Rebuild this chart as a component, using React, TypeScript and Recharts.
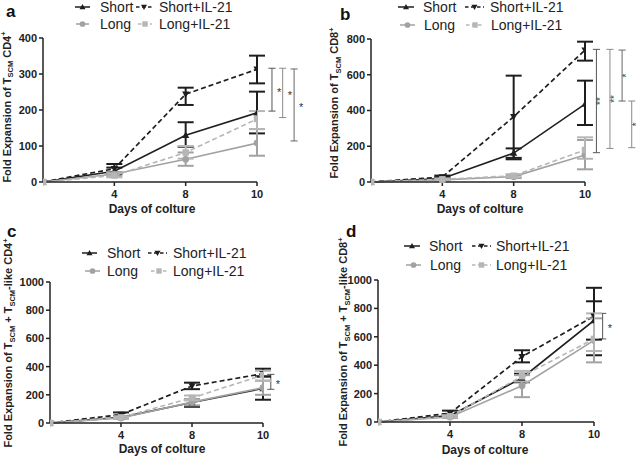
import React from 'react';
import { LineChart, Line, XAxis, YAxis, ErrorBar, ReferenceLine } from 'recharts';

const FONT = "Arial, 'Liberation Sans', Helvetica, sans-serif";

// ---- categories / labels ----
const dayIndex = [0, 1, 2, 3];
const dayLabels = ['0', '4', '8', '10'];
const seriesNames = ['Short', 'Short+IL-21', 'Long', 'Long+IL-21'];
const xTitle = 'Days of colture';

// ---- panel a : TSCM CD4+ ----
const aShort = [0, 30, 130, 192];
const aShortLow = [0, 22, 98, 135];
const aShortHigh = [0, 40, 166, 251];
const aShortIL = [0, 37, 244, 313];
const aShortILLow = [0, 26, 214, 274];
const aShortILHigh = [0, 50, 262, 351];
const aLong = [0, 22, 63, 108];
const aLongLow = [0, 17, 45, 73];
const aLongHigh = [0, 27, 82, 147];
const aLongIL = [0, 18, 82, 175];
const aLongILLow = [0, 13, 65, 147];
const aLongILHigh = [0, 24, 100, 197];
const aTicks = [0, 100, 200, 300, 400];

// ---- panel b : TSCM CD8+ ----
const bShort = [0, 20, 162, 436];
const bShortLow = [0, 14, 127, 319];
const bShortHigh = [0, 27, 188, 567];
const bShortIL = [0, 28, 365, 738];
const bShortILLow = [0, 20, 135, 679];
const bShortILHigh = [0, 36, 595, 785];
const bLong = [0, 12, 30, 151];
const bLongLow = [0, 8, 22, 71];
const bLongHigh = [0, 16, 38, 235];
const bLongIL = [0, 15, 35, 179];
const bLongILLow = [0, 10, 27, 130];
const bLongILHigh = [0, 20, 44, 250];
const bTicks = [0, 200, 400, 600, 800];

// ---- panel c : TSCM + TSCM-like CD4+ ----
const cShort = [0, 40, 145, 245];
const cShortLow = [0, 35, 115, 165];
const cShortHigh = [0, 45, 170, 330];
const cShortIL = [0, 60, 262, 350];
const cShortILLow = [0, 50, 240, 330];
const cShortILHigh = [0, 75, 286, 385];
const cLong = [0, 35, 148, 250];
const cLongLow = [0, 30, 125, 200];
const cLongHigh = [0, 40, 170, 300];
const cLongIL = [0, 40, 178, 340];
const cLongILLow = [0, 32, 160, 300];
const cLongILHigh = [0, 48, 195, 370];
const cTicks = [0, 200, 400, 600, 800, 1000];

// ---- panel d : TSCM + TSCM-like CD8+ ----
const dShort = [0, 45, 310, 715];
const dShortLow = [0, 35, 280, 580];
const dShortHigh = [0, 55, 340, 850];
const dShortIL = [0, 62, 460, 745];
const dShortILLow = [0, 50, 420, 470];
const dShortILHigh = [0, 80, 505, 945];
const dLong = [0, 35, 255, 575];
const dLongLow = [0, 28, 175, 420];
const dLongHigh = [0, 42, 330, 730];
const dLongIL = [0, 40, 322, 585];
const dLongILLow = [0, 32, 285, 500];
const dLongILHigh = [0, 48, 360, 765];
const dTicks = [0, 200, 400, 600, 800, 1000];

// ---- significance brackets: [x position (category index), low, high, label] ----
const aBrackets: [number, number, number, string][] = [
  [3.21, 197, 316, '*'],
  [3.36, 179, 316, '*'],
  [3.52, 114, 314, '*'],
];
const bBrackets: [number, number, number, string][] = [
  [3.16, 164, 742, '**'],
  [3.35, 188, 742, '**'],
  [3.52, 453, 738, '*'],
  [3.655, 192, 453, '*'],
];
const cBrackets: [number, number, number, string][] = [[3.11, 239, 345, '*']];
const dBrackets: [number, number, number, string][] = [[3.12, 585, 765, '*']];

// ---------------------------------------------------------------
type MarkerType = 'up' | 'down' | 'circle' | 'square';
const seriesStyle = [
  { key: 's', color: '#1e1e1e', dash: undefined as string | undefined, marker: 'up' as MarkerType, w: 1.6 },
  { key: 'si', color: '#1e1e1e', dash: '5 3', marker: 'down' as MarkerType, w: 1.7 },
  { key: 'l', color: '#a2a2a2', dash: undefined as string | undefined, marker: 'circle' as MarkerType, w: 1.6 },
  { key: 'li', color: '#b6b6b6', dash: '5 3', marker: 'square' as MarkerType, w: 1.6 },
];

function buildRows(vals: number[][], lows: number[][], highs: number[][]) {
  return dayIndex.map((x, i) => {
    const row: any = { x };
    seriesStyle.forEach((st, k) => {
      const v = vals[k][i];
      row[st.key] = v;
      const lo = lows[k][i];
      const hi = highs[k][i];
      row[st.key + 'Err'] = hi - lo > 0 ? [v - lo, hi - v] : null;
    });
    return row;
  });
}

function markerShape(type: MarkerType, x: number, y: number, color: string, s: number, key?: any) {
  switch (type) {
    case 'up':
      return <polygon key={key} points={`${x},${y - s} ${x + s},${y + s * 0.75} ${x - s},${y + s * 0.75}`} fill={color} />;
    case 'down':
      return <polygon key={key} points={`${x},${y + s} ${x + s},${y - s * 0.75} ${x - s},${y - s * 0.75}`} fill={color} />;
    case 'circle':
      return <circle key={key} cx={x} cy={y} r={s * 0.95} fill={color} />;
    default:
      return <rect key={key} x={x - s * 0.9} y={y - s * 0.9} width={s * 1.8} height={s * 1.8} fill={color} />;
  }
}

const makeDot = (type: MarkerType, color: string) => (p: any) => {
  const { cx, cy, index } = p;
  if (cx == null || cy == null) return <g key={`d${index}`} />;
  return markerShape(type, cx, cy, color, 3.6, `d${index}`);
};

type LegendItem = { ix: number; iw: number; tx: number; y: number };

type PanelCfg = {
  left: number;
  top: number;
  width: number;
  height: number;
  margin: { top: number; right: number; bottom: number; left: number };
  yW: number;
  yMax: number;
  yTicks: number[];
  rows: any[];
  brackets: [number, number, number, string][];
  rotateStars: boolean;
  letter: string;
  letterX: number;
  letterY: number;
  yTitleX: number;
  yTitleY: number;
  yTitleKind: 'cd4' | 'cd8' | 'likeCd4' | 'likeCd8';
  xTitleX: number;
  xTitleY: number;
  legend: LegendItem[];
};

function YTitle({ x, y, kind }: { x: number; y: number; kind: string }) {
  const sub = 7.5;
  const base = 11;
  const sup = 7.5;
  const common = { fontFamily: FONT, fontWeight: 'bold' as const, fill: '#222' };
  let parts: React.ReactNode;
  if (kind === 'cd4' || kind === 'cd8') {
    parts = (
      <>
        <tspan>Fold Expansion of T</tspan>
        <tspan fontSize={sub} dy={2.5}>SCM</tspan>
        <tspan dy={-2.5}>{kind === 'cd4' ? ' CD4' : ' CD8'}</tspan>
        <tspan fontSize={sup} dy={-4.5}>+</tspan>
      </>
    );
  } else {
    parts = (
      <>
        <tspan>Fold Expansion of T</tspan>
        <tspan fontSize={sub} dy={2.5}>SCM</tspan>
        <tspan dy={-2.5}>{' + T'}</tspan>
        <tspan fontSize={sub} dy={2.5}>SCM</tspan>
        <tspan dy={-2.5}>{'-like ' + (kind === 'likeCd4' ? 'CD4' : 'CD8')}</tspan>
        <tspan fontSize={sup} dy={-4.5}>+</tspan>
      </>
    );
  }
  return (
    <text transform={`translate(${x},${y}) rotate(-90)`} textAnchor="middle" fontSize={base} {...common}>
      {parts}
    </text>
  );
}

function Legend({ items }: { items: LegendItem[] }) {
  return (
    <>
      {items.map((it, k) => {
        const st = seriesStyle[k];
        const h = 10;
        return (
          <React.Fragment key={k}>
            <svg
              width={it.iw}
              height={h}
              style={{ position: 'absolute', left: it.ix, top: it.y - h / 2, overflow: 'visible' }}
            >
              <line
                x1={0}
                x2={it.iw}
                y1={h / 2}
                y2={h / 2}
                stroke={st.color}
                strokeWidth={1.5}
                strokeDasharray={st.dash ? '3.5 2.5' : undefined}
              />
              {markerShape(st.marker, it.iw / 2, h / 2, st.color, 3)}
            </svg>
            <span
              style={{
                position: 'absolute',
                left: it.tx,
                top: it.y - 6.8,
                fontFamily: FONT,
                fontSize: 14,
                lineHeight: '14px',
                color: '#222',
                whiteSpace: 'nowrap',
              }}
            >
              {seriesNames[k]}
            </span>
          </React.Fragment>
        );
      })}
    </>
  );
}

function Panel({ cfg }: { cfg: PanelCfg }) {
  const capW = 0.05;
  const tickStyle = { fontSize: 11, fontWeight: 'bold' as const, fill: '#222', fontFamily: FONT };
  const axisStroke = { stroke: '#222', strokeWidth: 1.5 };
  return (
    <div style={{ position: 'absolute', left: cfg.left, top: cfg.top, width: cfg.width, height: cfg.height }}>
      <LineChart width={cfg.width} height={cfg.height} data={cfg.rows} margin={cfg.margin}>
        <XAxis
          type="number"
          dataKey="x"
          domain={[0, 3]}
          ticks={[1, 2, 3]}
          interval={0}
          allowDataOverflow
          tickFormatter={(v: number) => dayLabels[v]}
          axisLine={axisStroke}
          tickLine={axisStroke}
          tickSize={4}
          tickMargin={4}
          tick={tickStyle}
          height={30}
          label={{
            content: () => (
              <text
                x={cfg.xTitleX}
                y={cfg.xTitleY}
                textAnchor="middle"
                fontFamily={FONT}
                fontWeight="bold"
                fontSize={12}
                fill="#222"
              >
                {xTitle}
              </text>
            ),
          }}
        />
        <YAxis
          type="number"
          domain={[0, cfg.yMax]}
          ticks={cfg.yTicks}
          interval={0}
          width={cfg.yW}
          axisLine={axisStroke}
          tickLine={axisStroke}
          tickSize={4}
          tickMargin={2}
          tick={tickStyle}
          label={{
            content: () => <YTitle x={cfg.yTitleX} y={cfg.yTitleY} kind={cfg.yTitleKind} />,
          }}
        />
        {cfg.brackets.map(([bx, lo, hi, star], k) => {
          const color = ['#555', '#8a8a8a', '#666', '#888'][k % 4];
          return (
            <React.Fragment key={`br${k}`}>
              <ReferenceLine
                segment={[
                  { x: bx, y: lo },
                  { x: bx, y: hi },
                ]}
                stroke={color}
                strokeWidth={1}
                ifOverflow="visible"
                label={{
                  content: (p: any) => {
                    const vb = p.viewBox || {};
                    const cy = (vb.y ?? 0) + (vb.height ?? 0) / 2;
                    if (cfg.rotateStars) {
                      const cx = (vb.x ?? 0) + 8;
                      return (
                        <text
                          transform={`translate(${cx},${cy}) rotate(-90)`}
                          textAnchor="middle"
                          fontFamily={FONT}
                          fontSize={10}
                          fill="#444"
                        >
                          {star}
                        </text>
                      );
                    }
                    const cx = (vb.x ?? 0) + 5;
                    return (
                      <text
                        transform={`translate(${cx},${cy + 6}) rotate(0.01)`}
                        fontFamily={FONT}
                        fontSize={11}
                        fill="#333"
                      >
                        {star}
                      </text>
                    );
                  },
                }}
              />
              <ReferenceLine
                segment={[
                  { x: bx - capW, y: hi },
                  { x: bx + capW, y: hi },
                ]}
                stroke={color}
                strokeWidth={1}
                ifOverflow="visible"
              />
              <ReferenceLine
                segment={[
                  { x: bx - capW, y: lo },
                  { x: bx + capW, y: lo },
                ]}
                stroke={color}
                strokeWidth={1}
                ifOverflow="visible"
              />
            </React.Fragment>
          );
        })}
        {seriesStyle.map((st) => (
          <Line
            key={st.key}
            type="linear"
            dataKey={st.key}
            stroke={st.color}
            strokeWidth={st.w}
            strokeDasharray={st.dash}
            dot={makeDot(st.marker, st.color)}
            activeDot={false}
            isAnimationActive={false}
            legendType="none"
          >
            <ErrorBar
              dataKey={st.key + 'Err'}
              direction="y"
              width={8}
              stroke={st.color}
              strokeWidth={2}
              isAnimationActive={false}
            />
          </Line>
        ))}
      </LineChart>
      <Legend items={cfg.legend} />
      <div
        style={{
          position: 'absolute',
          left: cfg.letterX,
          top: cfg.letterY - 15,
          fontFamily: FONT,
          fontWeight: 'bold',
          fontSize: 17,
          lineHeight: '17px',
          color: '#111',
        }}
      >
        {cfg.letter}
      </div>
    </div>
  );
}

const panels: PanelCfg[] = [
  {
    left: 0,
    top: 0,
    width: 319,
    height: 228,
    margin: { top: 38, right: 62, bottom: 16, left: 0 },
    yW: 43,
    yMax: 400,
    yTicks: aTicks,
    rows: buildRows(
      [aShort, aShortIL, aLong, aLongIL],
      [aShortLow, aShortILLow, aLongLow, aLongILLow],
      [aShortHigh, aShortILHigh, aLongHigh, aLongILHigh]
    ),
    brackets: aBrackets,
    rotateStars: false,
    letter: 'a',
    letterX: 6,
    letterY: 18,
    yTitleX: 10.5,
    yTitleY: 107,
    yTitleKind: 'cd4',
    xTitleX: 152,
    xTitleY: 213,
    legend: [
      { ix: 75, iw: 15, tx: 100, y: 7 },
      { ix: 136, iw: 16, tx: 159, y: 7 },
      { ix: 76, iw: 13, tx: 100, y: 24 },
      { ix: 138, iw: 14, tx: 159, y: 24 },
    ],
  },
  {
    left: 319,
    top: 0,
    width: 319,
    height: 228,
    margin: { top: 39, right: 53, bottom: 16, left: 0 },
    yW: 52,
    yMax: 800,
    yTicks: bTicks,
    rows: buildRows(
      [bShort, bShortIL, bLong, bLongIL],
      [bShortLow, bShortILLow, bLongLow, bLongILLow],
      [bShortHigh, bShortILHigh, bLongHigh, bLongILHigh]
    ),
    brackets: bBrackets,
    rotateStars: true,
    letter: 'b',
    letterX: 21,
    letterY: 21,
    yTitleX: 19,
    yTitleY: 103,
    yTitleKind: 'cd8',
    xTitleX: 161,
    xTitleY: 213,
    legend: [
      { ix: 79, iw: 16, tx: 104, y: 7 },
      { ix: 146, iw: 19, tx: 171, y: 7 },
      { ix: 81, iw: 15, tx: 105, y: 25 },
      { ix: 147, iw: 18, tx: 172, y: 25 },
    ],
  },
  {
    left: 0,
    top: 228,
    width: 319,
    height: 231,
    margin: { top: 54, right: 56, bottom: 6, left: 0 },
    yW: 50,
    yMax: 1000,
    yTicks: cTicks,
    rows: buildRows(
      [cShort, cShortIL, cLong, cLongIL],
      [cShortLow, cShortILLow, cLongLow, cLongILLow],
      [cShortHigh, cShortILHigh, cLongHigh, cLongILHigh]
    ),
    brackets: cBrackets,
    rotateStars: false,
    letter: 'c',
    letterX: 7,
    letterY: 10,
    yTitleX: 12,
    yTitleY: 115,
    yTitleKind: 'likeCd4',
    xTitleX: 162,
    xTitleY: 225,
    legend: [
      { ix: 82, iw: 15, tx: 107, y: 25 },
      { ix: 148, iw: 19, tx: 173, y: 25 },
      { ix: 85, iw: 15, tx: 107, y: 43 },
      { ix: 151, iw: 16, tx: 173, y: 43 },
    ],
  },
  {
    left: 319,
    top: 228,
    width: 319,
    height: 231,
    margin: { top: 52, right: 44, bottom: 7, left: 0 },
    yW: 59,
    yMax: 1000,
    yTicks: dTicks,
    rows: buildRows(
      [dShort, dShortIL, dLong, dLongIL],
      [dShortLow, dShortILLow, dLongLow, dLongILLow],
      [dShortHigh, dShortILHigh, dLongHigh, dLongILHigh]
    ),
    brackets: dBrackets,
    rotateStars: false,
    letter: 'd',
    letterX: 27,
    letterY: 10,
    yTitleX: 28,
    yTitleY: 114,
    yTitleKind: 'likeCd8',
    xTitleX: 166,
    xTitleY: 226,
    legend: [
      { ix: 85, iw: 16, tx: 110, y: 18 },
      { ix: 153, iw: 19, tx: 177, y: 18 },
      { ix: 87, iw: 15, tx: 111, y: 37 },
      { ix: 153, iw: 19, tx: 177, y: 37 },
    ],
  },
];

export default function App() {
  return (
    <div
      style={{
        position: 'absolute',
        left: 0,
        top: 0,
        width: 638,
        height: 459,
        background: '#fff',
        overflow: 'hidden',
      }}
    >
      {panels.map((p, i) => (
        <Panel key={i} cfg={p} />
      ))}
    </div>
  );
}
